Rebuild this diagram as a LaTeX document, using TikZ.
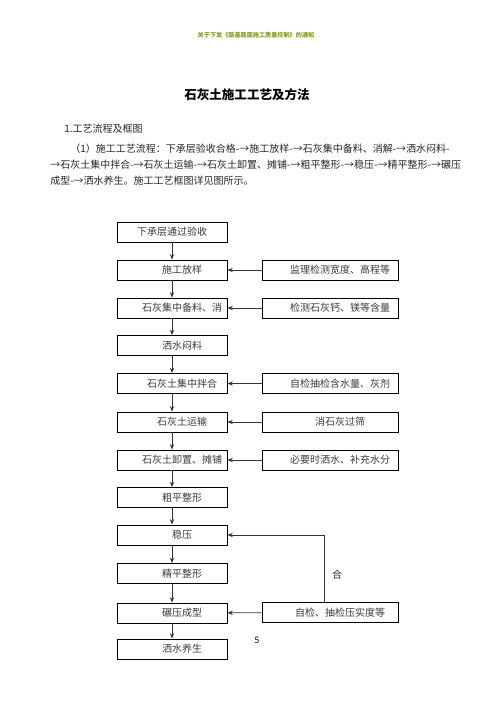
\documentclass[tikz,border=0pt]{standalone}
\usepackage{fontspec}
\newfontfamily\cjk{Noto Sans CJK SC}
\newfontfamily\pgnum{Carlito}
\usetikzlibrary{arrows.meta}
\definecolor{hdr}{HTML}{8C9A28}
\definecolor{txt}{HTML}{3A3A3A}
\tikzset{
  lbox/.style={draw=black, line width=0.7pt, rectangle, minimum width=82.5pt, minimum height=15pt, inner sep=0pt, font=\cjk\fontsize{7.5}{9}\selectfont, text=txt},
  rbox/.style={draw=black, line width=0.7pt, rectangle, minimum width=102pt, minimum height=15pt, inner sep=0pt, font=\cjk\fontsize{7.5}{9}\selectfont, text=txt},
  flow/.style={draw=black!80, line width=0.6pt, -{Stealth[length=4pt,width=3.2pt]}},
  ptxt/.style={font=\cjk\fontsize{7.5}{9}\selectfont, inner sep=0pt, text=black!85},
}
\begin{document}
\begin{tikzpicture}[x=0.75pt, y=-0.75pt]
\useasboundingbox (0,0) rectangle (496,702);
% header and text
\node[font=\cjk\bfseries\fontsize{4.6}{5}\selectfont, text=hdr, inner sep=0pt] (hd) at (256,35) {关于下发《路基路面施工质量控制》的通知};
\node[font=\cjk\bfseries\fontsize{9.4}{11}\selectfont, inner sep=0pt] (ttl) at (247,95) {石灰土施工工艺及方法};
\node[ptxt, anchor=west] (sec) at (64,129) {1.工艺流程及框图};
\node[ptxt, anchor=west] (l1) at (70,149) {\makebox[288.75pt][s]{（1）施工工艺流程：下承层验收合格-→施工放样-→石灰集中备料、消解-→洒水闷料-}};
\node[ptxt, anchor=west] (l2) at (50,165) {\makebox[303.75pt][s]{→石灰土集中拌合-→石灰土运输-→石灰土卸置、摊铺-→粗平整形-→稳压-→精平整形-→碾压}};
\node[ptxt, anchor=west] (l3) at (50,181) {成型-→洒水养生。施工工艺框图详见图所示。};
% left column
\node[lbox] (b1) at (172,232) {下承层通过验收};
\node[lbox] (b2) at (172,270) {\hspace*{15pt}施工放样};
\node[lbox] (b3) at (172,308) {\hspace*{15pt}石灰集中备料、消};
\node[lbox] (b4) at (172,345.5) {\hspace*{15pt}洒水闷料};
\node[lbox] (b5) at (172,383.5) {\hspace*{15pt}石灰土集中拌合};
\node[lbox] (b6) at (172,422) {\hspace*{15pt}石灰土运输};
\node[lbox] (b7) at (172,460) {\hspace*{15pt}石灰土卸置、摊铺};
\node[lbox] (b8) at (172,497.5) {\hspace*{15pt}粗平整形};
\node[lbox] (b9) at (172,535) {\hspace*{15pt}稳压};
\node[lbox] (b10) at (172,573.5) {\hspace*{15pt}精平整形};
\node[lbox] (b11) at (172,613) {\hspace*{15pt}碾压成型};
\node[lbox] (b12) at (172,649) {\hspace*{15pt}洒水养生};
% right column
\node[rbox] (r1) at (330,270) {\hspace*{15pt}监理检测宽度、高程等};
\node[rbox] (r2) at (330,308) {\hspace*{15pt}检测石灰钙、镁等含量};
\node[rbox] (r3) at (330,383.5) {\hspace*{15pt}自检抽检含水量、灰剂};
\node[rbox] (r4) at (330,422) {\hspace*{15pt}消石灰过筛};
\node[rbox] (r5) at (330,460) {\hspace*{15pt}必要时洒水、补充水分};
\node[rbox] (r6) at (330,612.5) {\hspace*{15pt}自检、抽检压实度等};
% vertical arrows
\foreach \a/\b in {b1/b2,b2/b3,b3/b4,b4/b5,b5/b6,b6/b7,b7/b8,b8/b9,b9/b10,b10/b11,b11/b12}
  \draw[flow] (\a) -- (\b);
% horizontal arrows
\foreach \a/\b in {r1/b2,r2/b3,r3/b5,r4/b6,r5/b7,r6/b11}
  \draw[flow] (\a) -- (\b);
% feedback
\coordinate (fb) at (324,535);
\draw[flow] (r6.north -| fb) -- (fb) -- (b9.east);
\node[ptxt] (he) at (337,575) {合};
\node[font=\pgnum\fontsize{7.5}{9}\selectfont, inner sep=0pt] (pg) at (257,640) {5};
\end{tikzpicture}
\end{document}
